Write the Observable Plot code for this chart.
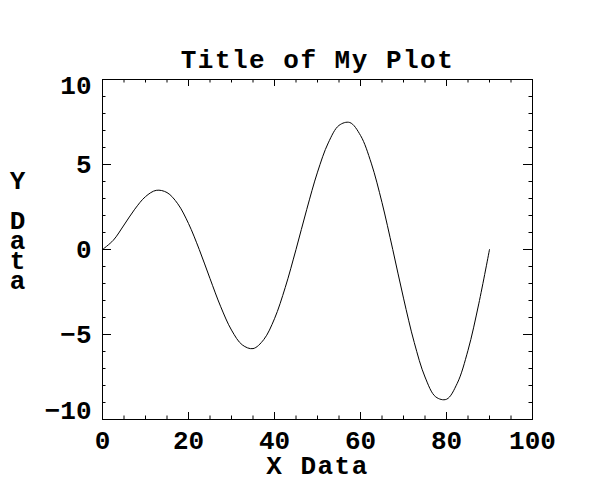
<!DOCTYPE html>
<html>
<head>
<meta charset="utf-8">
<script src="https://cdn.jsdelivr.net/npm/d3@7"></script>
<script src="https://cdn.jsdelivr.net/npm/@observablehq/plot@0.6"></script>
<style>
  html, body { margin: 0; padding: 0; background: #fff; }
  #chart svg { display: block; }
</style>
</head>
<body>
<div id="chart"></div>
<script>
// ---- data ----
const xData = [0, 2.5, 5, 7.5, 10, 12.5, 15, 17.5, 20, 22.5, 25, 27.5, 30, 32.5, 35, 37.5, 40, 42.5, 45,
  47.5, 50, 52.5, 55, 57.5, 60, 62.5, 65, 67.5, 70, 72.5, 75, 77.5, 80, 82.5, 85, 87.5, 90];
const yData = [0, 0.54, 1.44, 2.37, 3.11, 3.48, 3.35, 2.69, 1.53, 0, -1.71, -3.37, -4.74, -5.61, -5.83, -5.30, -4.07, -2.23, 0,
  2.36, 4.55, 6.27, 7.30, 7.47, 6.71, 5.08, 2.76, 0, -2.86, -5.47, -7.50, -8.67, -8.81, -7.87, -5.93, -3.20, 0];

const xMajorTicks = [0, 20, 40, 60, 80, 100];
const xMinorTicks = [5, 10, 15, 25, 30, 35, 45, 50, 55, 65, 70, 75, 85, 90, 95];
const yMajorTicks = [-10, -5, 0, 5, 10];
const yMinorTicks = [-9, -8, -7, -6, -4, -3, -2, -1, 1, 2, 3, 4, 6, 7, 8, 9];
const yInnerLabels = [-5, 0, 5];
const yTopLabel = [10];
const yBottomLabel = [-10];

const titleText = "Title of My Plot";
const xLabelText = "X Data";
const yLabelText = "Y Data";

const points = xData.map((x, i) => ({x, y: yData[i]}));

const W = 600, H = 500;
const mL = 102, mR = 68, mT = 79, mB = 81;
const pw = W - mL - mR, ph = H - mT - mB;
const FONT = "Liberation Mono, DejaVu Sans Mono, monospace";
const FS = 26;
const txt = {fontFamily: FONT, fontSize: FS, fontWeight: "bold", fill: "black"};

const chart = Plot.plot({
  width: W, height: H,
  marginLeft: mL, marginRight: mR, marginTop: mT, marginBottom: mB,
  x: {domain: [0, 100], axis: null},
  y: {domain: [-10, 10], axis: null},
  style: {background: "white"},
  marks: [
    Plot.frame({stroke: "black", strokeWidth: 1}),
    // bottom / top ticks (inward)
    Plot.tickX(xMajorTicks, {x: d => d, insetTop: ph - 7, stroke: "black"}),
    Plot.tickX(xMajorTicks, {x: d => d, insetBottom: ph - 7, stroke: "black"}),
    Plot.tickX(xMinorTicks, {x: d => d, insetTop: ph - 3.5, stroke: "black"}),
    Plot.tickX(xMinorTicks, {x: d => d, insetBottom: ph - 3.5, stroke: "black"}),
    // left / right ticks (inward)
    Plot.tickY(yMajorTicks, {y: d => d, insetRight: pw - 9, stroke: "black"}),
    Plot.tickY(yMajorTicks, {y: d => d, insetLeft: pw - 9, stroke: "black"}),
    Plot.tickY(yMinorTicks, {y: d => d, insetRight: pw - 3.5, stroke: "black"}),
    Plot.tickY(yMinorTicks, {y: d => d, insetLeft: pw - 3.5, stroke: "black"}),
    // curve
    Plot.line(points, {x: "x", y: "y", stroke: "black", strokeWidth: 1, curve: "catmull-rom"}),
    // x tick labels
    Plot.text(xMajorTicks, {x: d => d, text: d => String(d), frameAnchor: "bottom", lineAnchor: "bottom", dy: 29, textAnchor: "middle", ...txt}),
    // y tick labels
    Plot.text(yInnerLabels, {x: 0, y: d => d, text: d => String(d).replace("-", "\u2212"), lineAnchor: "middle", textAnchor: "end", dx: -11, ...txt}),
    Plot.text(yTopLabel, {x: 0, y: d => d, text: d => String(d), lineAnchor: "bottom", textAnchor: "end", dx: -11, dy: 14, ...txt}),
    Plot.text(yBottomLabel, {x: 0, y: d => d, text: d => String(d).replace("-", "\u2212"), lineAnchor: "bottom", textAnchor: "end", dx: -11, dy: -1, ...txt}),
    // title
    Plot.text([titleText], {text: d => d, frameAnchor: "top", lineAnchor: "bottom", dy: -12, textAnchor: "middle", ...txt}),
    // x label
    Plot.text([xLabelText], {text: d => d, frameAnchor: "bottom", lineAnchor: "bottom", dy: 54, textAnchor: "middle", ...txt}),
    // y label, stacked letters
    Plot.text([yLabelText], {text: d => d.split("").join("\n"), frameAnchor: "left", lineAnchor: "bottom", lineHeight: 20 / FS, dx: 17 - mL, dy: 39, textAnchor: "middle", ...txt})
  ]
});
// wider letter spacing for title and x label, as in the reference
d3.select(chart).selectAll("text")
  .filter(function() { return this.textContent === titleText || this.textContent === xLabelText; })
  .attr("letter-spacing", "1.5px");
document.getElementById("chart").appendChild(chart);
</script>
</body>
</html>
